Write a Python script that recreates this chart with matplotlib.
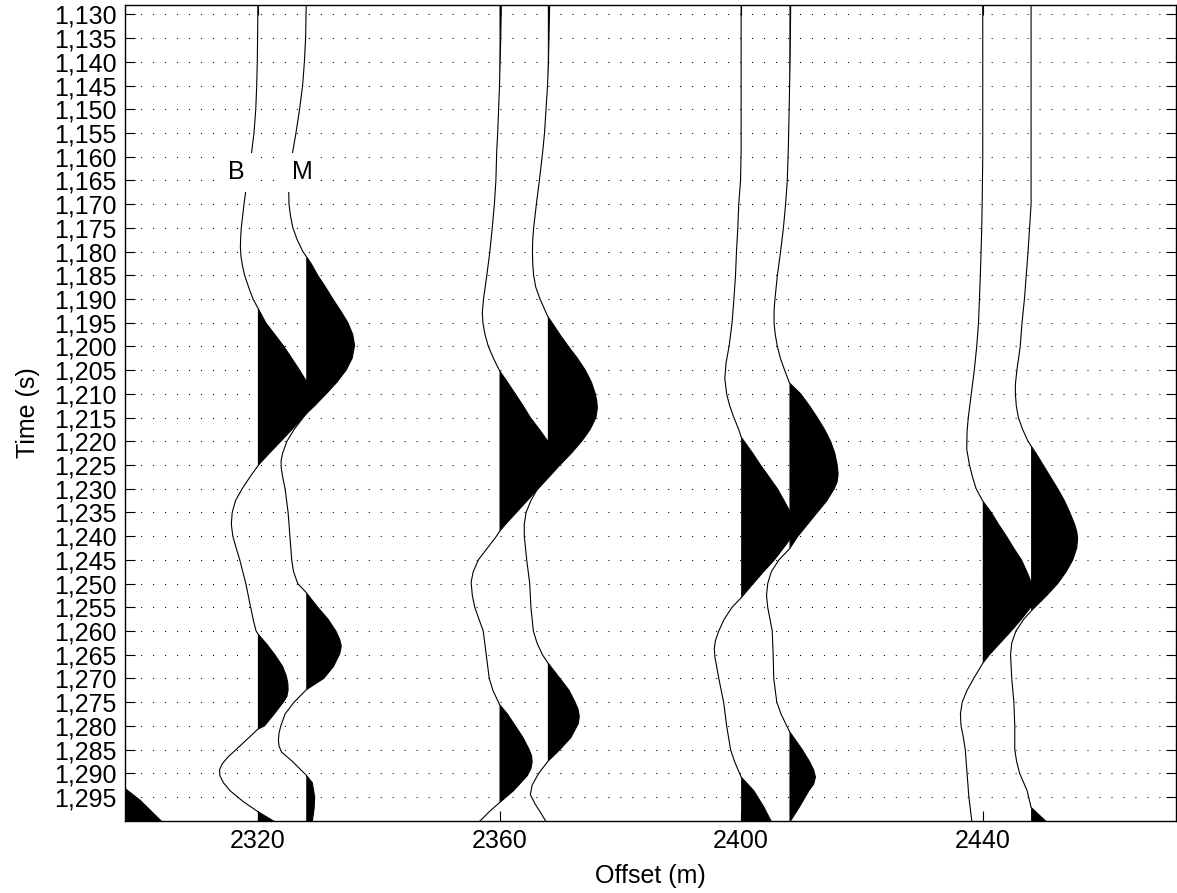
import matplotlib
matplotlib.use("Agg")
import matplotlib.pyplot as plt
import numpy as np
from matplotlib.ticker import FuncFormatter

plt.rcParams['font.family'] = ['Liberation Sans', 'DejaVu Sans']

# trace offsets (m)
offsets = [2298, 2320, 2328, 2360, 2368, 2400, 2408, 2440, 2448]

t_c = [1286, 1290, 1293.2, 1295.7, 1300.2]
a_c = [-2.5, -1.2, 0, 2.5, 6.1]

t_b1 = [1128, 1135, 1140, 1145, 1150, 1155, 1158.7, 1162, 1165, 1168.1, 1170, 1175, 1177,
        1179, 1181, 1183, 1185, 1188, 1190, 1191.9, 1195, 1200, 1205, 1207.3, 1210, 1212,
        1214.2, 1217, 1220, 1222.5, 1225, 1227.5, 1230, 1232.5, 1235, 1237.5, 1240, 1242.5,
        1245, 1250, 1255, 1258, 1260, 1260.6, 1263, 1265, 1267.5, 1269.5, 1271, 1272.4,
        1273.8, 1275, 1277.5, 1280, 1280.7, 1282.5, 1285, 1286.5, 1288, 1289.3, 1290.5,
        1292, 1293.7, 1296, 1298.1, 1300.2]
a_b1 = [0, -0.05, -0.1, -0.2, -0.35, -0.65, -1.0, -1.4, -1.75, -2.1, -2.3, -2.75, -2.85,
        -2.9, -2.8, -2.55, -2.2, -1.4, -0.8, 0, 1.3, 4.3, 6.9, 8.0, 8.9, 8.9,
        8.0, 6.0, 3.8, 1.9, 0.1, -1.3, -2.6, -3.7, -4.25, -4.4, -4.15, -3.6,
        -3.0, -2.0, -1.2, -0.7, -0.3, 0, 1.6, 2.8, 4.1, 4.7, 4.95, 5.0,
        4.8, 4.2, 2.7, 1.1, 0, -1.5, -3.6, -4.9, -5.9, -6.35, -6.3,
        -5.7, -4.6, -2.4, 0, 2.75]

t_m1 = [1128, 1135, 1140, 1145, 1150, 1155, 1158.7, 1162, 1165, 1167.1, 1170, 1172.5, 1175,
        1177.5, 1180, 1181, 1182.5, 1185, 1187.5, 1190, 1192.5, 1195, 1197.5, 1199.8, 1202.5,
        1205, 1207.5, 1210, 1212.5, 1214.2, 1215, 1217.5, 1220, 1222.5, 1224, 1225.5,
        1227.5, 1230, 1235, 1240, 1245, 1247.5, 1250, 1251.9, 1255, 1257.5, 1260, 1261.8,
        1263.2, 1264.8, 1267.5, 1270, 1272.4, 1275, 1277.5, 1280, 1281.5, 1283, 1284.3,
        1285.5, 1287.5, 1290.4, 1292, 1295, 1297.5, 1300.2]
a_m1 = [0, -0.1, -0.3, -0.6, -1.1, -1.7, -2.2, -2.6, -2.85, -2.9, -2.85, -2.6, -2.2,
        -1.5, -0.55, 0, 0.8, 1.9, 3.2, 4.4, 5.7, 6.9, 7.7, 8.0, 7.6,
        6.6, 5.1, 3.3, 1.4, 0, -0.5, -2.0, -3.2, -3.9, -4.15, -4.15,
        -3.9, -3.5, -3.0, -2.7, -2.4, -2.1, -1.4, 0, 1.9, 3.6, 4.9, 5.55,
        5.8, 5.55, 4.5, 2.9, 0, -2.0, -3.5, -4.2, -4.5, -4.6, -4.5,
        -4.1, -2.3, 0, 1.0, 1.4, 1.3, 1.0]

t_b2 = [1128, 1135, 1140, 1145, 1150, 1155, 1158.7, 1165, 1170, 1175, 1180, 1185, 1190,
        1192.8, 1195, 1197.5, 1200, 1202.5, 1205.1, 1207.5, 1210, 1212.5, 1215, 1217.5,
        1220, 1222, 1224, 1226, 1227.8, 1230, 1232.5, 1235, 1237.5, 1239, 1240, 1242.5,
        1245, 1247.5, 1249.7, 1252.5, 1255, 1257.5, 1260, 1265, 1270, 1272.5, 1275.5,
        1277.5, 1280, 1282.5, 1285, 1286.3, 1287.6, 1289, 1290.5, 1293.7, 1296.2, 1298,
        1300.2]
a_b2 = [0.3, 0.2, 0.1, 0, -0.15, -0.3, -0.46, -0.6, -0.85, -1.2, -1.6, -2.1, -2.65,
        -2.85, -2.75, -2.4, -1.85, -1.0, 0, 1.3, 2.6, 3.9, 5.1, 6.6,
        8.0, 8.8, 9.0, 8.6, 7.9, 6.4, 4.6, 2.8, 1.0, 0, -0.5, -2.0,
        -3.5, -4.35, -4.7, -4.5, -4.1, -3.4, -2.7, -2.2, -1.7, -1.1, 0,
        1.3, 2.6, 3.9, 4.9, 5.3, 5.4, 5.2, 4.6, 2.3, 0, -1.6,
        -3.35]

t_m2 = [1128, 1140, 1145, 1150, 1155, 1158.7, 1165, 1170, 1175, 1177.5, 1180, 1182.5, 1185,
        1187.5, 1190, 1193.7, 1195, 1197.5, 1200, 1202.5, 1205, 1207.5, 1210, 1211.5,
        1213, 1215, 1217.5, 1220, 1222.5, 1225, 1227.8, 1230, 1232.5, 1235, 1237.5, 1240,
        1245, 1250, 1255, 1260, 1262.5, 1265, 1266.7, 1270, 1272.5, 1275, 1276.5, 1278,
        1279.5, 1282.5, 1285, 1287.5, 1290, 1292.5, 1294.5, 1296.5, 1298.5, 1300.2]
a_m2 = [0.3, 0.1, -0.05, -0.3, -0.55, -0.83, -1.4, -1.9, -2.35, -2.5, -2.55, -2.5, -2.35,
        -2.0, -1.3, 0, 0.7, 2.0, 3.4, 4.9, 6.2, 7.2, 7.85, 8.1,
        8.2, 7.95, 7.0, 5.6, 3.9, 2.0, 0, -1.7, -2.8, -3.6, -3.9, -3.9,
        -3.5, -3.0, -2.8, -2.4, -1.8, -0.9, 0, 2.0, 3.5, 4.5, 5.0, 5.2,
        5.05, 3.8, 2.0, 0, -1.5, -2.6, -2.9, -2.1, -1.1, -0.3]

t_b3 = [1128, 1140, 1150, 1158.7, 1165, 1170, 1175, 1180, 1185, 1190, 1195, 1200, 1203.5,
        1206.8, 1210, 1212.5, 1215, 1217.5, 1219.1, 1222.5, 1225, 1227.5, 1230, 1232.5,
        1234.4, 1237, 1239, 1241.5, 1245, 1247.5, 1250, 1253, 1255, 1257.5, 1260, 1262,
        1263.7, 1265.5, 1267.5, 1270, 1275, 1280, 1285, 1287.5, 1290.8, 1293.7, 1297,
        1300.2]
a_b3 = [0, 0, 0, 0, -0.1, -0.4, -0.55, -0.77, -0.93, -1.2, -1.5, -2.0, -2.5,
        -2.7, -2.4, -1.9, -1.2, -0.4, 0, 1.9, 3.2, 4.6, 6.0, 7.1,
        7.9, 8.8, 8.9, 7.6, 5.5, 3.7, 2.0, 0, -1.5, -2.8, -3.7, -4.25,
        -4.45, -4.35, -4.05, -3.7, -2.9, -2.4, -1.75, -1.1, 0, 2.1, 3.7,
        5.0]

t_m3 = [1128, 1140, 1150, 1158.7, 1165, 1170, 1175, 1180, 1185, 1190, 1192.5, 1195,
        1197.5, 1200, 1202.5, 1205, 1207.7, 1210, 1212.5, 1215, 1217.5, 1220, 1222.5,
        1225, 1226.9, 1228.5, 1230, 1232.5, 1235, 1237.5, 1240, 1242.7, 1245, 1247.5, 1250,
        1252.5, 1255, 1260, 1265, 1270, 1275, 1277.5, 1281.2, 1285, 1287.5, 1289.3, 1290.8,
        1292.3, 1293.7, 1297, 1300.2]
a_m3 = [0.2, 0.1, -0.05, -0.2, -0.36, -0.64, -1.0, -1.47, -2.0, -2.4, -2.55, -2.55,
        -2.35, -2.0, -1.5, -0.8, 0, 1.85, 3.3, 4.6, 5.8, 6.8, 7.5,
        7.9, 8.05, 7.9, 7.4, 6.2, 4.6, 3.0, 1.4, 0, -1.75, -3.0, -3.6,
        -3.8, -3.6, -2.85, -2.7, -2.6, -2.1, -1.4, 0, 2.1, 3.3, 4.0, 4.3,
        4.0, 3.2, 1.7, 0.1]

t_b4 = [1128, 1160, 1165, 1170, 1175, 1180, 1185, 1190, 1195, 1200, 1205, 1210, 1215, 1218,
        1221.7, 1225, 1227.5, 1230, 1232.6, 1235, 1237.5, 1240, 1242.5, 1245, 1247.5,
        1249.7, 1251, 1253, 1254.9, 1257.5, 1260, 1262.5, 1265, 1266.8, 1270, 1272.5, 1275,
        1277.5, 1280, 1282.5, 1285, 1290, 1295, 1300.2]
a_b4 = [0, 0, -0.05, -0.1, -0.17, -0.28, -0.4, -0.55, -0.7, -1.0, -1.4, -1.9, -2.4, -2.6,
        -2.65, -2.2, -1.7, -1.1, 0, 1.4, 2.6, 3.9, 5.1, 6.4, 7.3,
        8.0, 8.5, 8.6, 8.0, 6.4, 4.7, 2.9, 1.1, 0, -1.5, -2.6, -3.4,
        -3.7, -3.6, -3.2, -2.9, -2.6, -2.3, -1.8]

t_m4 = [1128, 1170, 1175, 1180, 1185, 1190, 1195, 1200, 1205, 1208, 1210, 1212.5, 1215,
        1217.5, 1220, 1221, 1222.5, 1225, 1227.5, 1230, 1232.5, 1235, 1237.5, 1239, 1240.5,
        1242.5, 1245, 1247.5, 1250, 1252.5, 1255.8, 1257.5, 1260, 1262.5, 1265, 1270, 1275,
        1280, 1285, 1287.5, 1290, 1293.7, 1297.2, 1300.2]
a_m4 = [0, 0, -0.25, -0.5, -0.8, -1.1, -1.5, -1.8, -2.35, -2.6, -2.6, -2.45, -2.1,
        -1.4, -0.5, 0, 0.8, 2.0, 3.2, 4.4, 5.5, 6.4, 7.2, 7.55, 7.7,
        7.55, 6.9, 5.8, 4.4, 2.6, 0, -1.2, -2.5, -3.2, -3.4, -3.2, -2.85,
        -2.7, -2.7, -2.4, -1.9, -0.65, 0, 2.5]

x_ticks = [2320, 2360, 2400, 2440]
y_ticks = list(range(1130, 1300, 5))
labels = ['B', 'M']
label_pos = [(2316.5, 1163.3), (2327.3, 1163.3)]

traces = [(t_c, a_c), (t_b1, a_b1), (t_m1, a_m1), (t_b2, a_b2), (t_m2, a_m2),
          (t_b3, a_b3), (t_m3, a_m3), (t_b4, a_b4), (t_m4, a_m4)]

fig = plt.figure(figsize=(11.77, 8.93), dpi=100)
ax = fig.add_axes([0.1062, 0.0810, 0.8930, 0.9134])

for off, (t, a) in zip(offsets, traces):
    t = np.array(t)
    a = np.array(a)
    ax.fill_betweenx(t, off, off + a, where=a >= 0, interpolate=True,
                     color='k', linewidth=0, zorder=2)
    ax.plot(off + a, t, color='k', linewidth=0.8, zorder=3)

for lab, (x, y) in zip(labels, label_pos):
    ax.text(x, y, lab, ha='center', va='center', fontsize=18, zorder=5,
            bbox=dict(facecolor='white', edgecolor='none', pad=5.5))

ax.set_xlim(2298, 2472)
ax.set_ylim(1300, 1128)
ax.set_xticks(x_ticks)
ax.set_yticks(y_ticks)
ax.yaxis.set_major_formatter(FuncFormatter(lambda v, p: f'{v:,.0f}'))
ax.tick_params(direction='in', length=7.5, width=0.8, top=True, right=True,
               labelsize=18, pad=6)
ax.yaxis.grid(True, color='k', linestyle=(8, (1, 10.5)), linewidth=0.75)
ax.set_axisbelow(True)
for s in ax.spines.values():
    s.set_linewidth(1.0)

ax.set_xlabel('Offset (m)', fontsize=18)
ax.set_ylabel('Time (s)', fontsize=18)
ax.xaxis.set_label_coords(0.5, -0.053)
ax.yaxis.set_label_coords(-0.081, 0.5)

fig.savefig('out.png', dpi=100)
